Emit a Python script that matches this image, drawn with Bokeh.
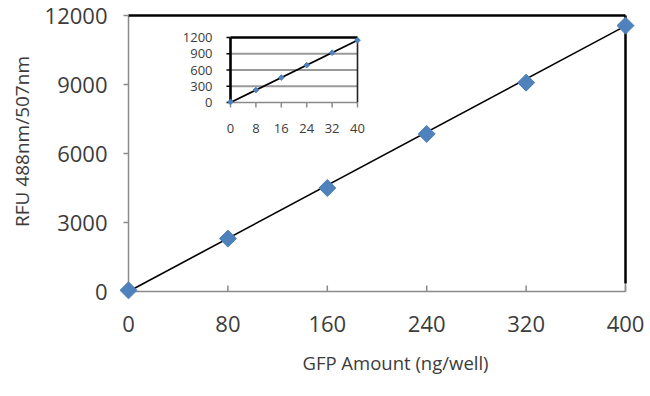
import math
from bokeh.plotting import figure
from bokeh.models import Range1d
from bokeh.core.properties import value
from bokeh.embed import file_html
from bokeh.resources import INLINE

# ---------------- data ----------------
gfp_ng = [0, 80, 160, 240, 320, 400]
rfu = [50, 2300, 4500, 6850, 9080, 11560]
trend_x = [0, 400]
trend_y = [0, 11550]
x_ticks = [0, 80, 160, 240, 320, 400]
y_ticks = [0, 3000, 6000, 9000, 12000]

inset_ng = [0, 8, 16, 24, 32, 40]
inset_rfu = [10, 230, 460, 690, 920, 1150]
inset_trend_x = [0, 40]
inset_trend_y = [0, 1150]
inset_x_ticks = [0, 8, 16, 24, 32, 40]
inset_y_ticks = [0, 300, 600, 900, 1200]
inset_grid = [300, 600, 900]

x_title = "GFP Amount (ng/well)"
y_title = "RFU 488nm/507nm"

# ---------------- layout (canvas px) ----------------
W, H = 650, 396
FONT = "Open Sans"
TXT = "#3c3c3c"
AXIS = "#8a8a8a"
BLUE = "#4f81bd"

X0PX, X1PX = 128, 625      # pixel of x 0 / 400
Y0PX, Y1PX = 291, 15       # pixel of y 0 / 12000
ux = (x_ticks[-1] - x_ticks[0]) / (X1PX - X0PX)
uy = (y_ticks[-1] - y_ticks[0]) / (Y0PX - Y1PX)
xr = Range1d(x_ticks[0] - X0PX * ux, x_ticks[-1] + (W - X1PX) * ux)
yr = Range1d(y_ticks[0] - (H - Y0PX) * uy, y_ticks[-1] + Y1PX * uy)


def px_x(px):
    return x_ticks[0] + (px - X0PX) * ux


def px_y(py):
    return y_ticks[0] + (Y0PX - py) * uy


p = figure(width=W, height=H, x_range=xr, y_range=yr,
           output_backend="svg", toolbar_location=None,
           min_border=0, min_border_left=0, min_border_right=0,
           min_border_top=0, min_border_bottom=0)
p.axis.visible = False
p.grid.visible = False
p.outline_line_color = None
p.background_fill_color = "white"
p.border_fill_color = "white"

TF = dict(text_font=value(FONT), text_color=TXT)

# axis tick labels
p.text(x=[x_ticks[0]] * len(y_ticks), y=y_ticks, text=[str(t) for t in y_ticks],
       x_offset=-21, text_align="right", text_baseline="middle",
       text_font_size="22px", **TF)
p.text(x=x_ticks, y=[y_ticks[0]] * len(x_ticks), text=[str(t) for t in x_ticks],
       y_offset=32, text_align="center", text_baseline="middle",
       text_font_size="22px", **TF)

# axis titles
p.text(x=[px_x(395)], y=[px_y(362)], text=[x_title],
       text_align="center", text_baseline="middle", text_font_size="18.5px", **TF)
p.text(x=[px_x(21)], y=[px_y(141)], text=[y_title], angle=math.pi / 2,
       text_align="center", text_baseline="middle", text_font_size="19px", **TF)

# main axis lines, borders and ticks
right_black_from = px_y(283)
p.segment(x0=[x_ticks[0]], x1=[x_ticks[-1]], y0=[y_ticks[0]], y1=[y_ticks[0]],
          line_color=AXIS, line_width=1.5)
p.segment(x0=[x_ticks[0]], x1=[x_ticks[0]], y0=[y_ticks[0]], y1=[y_ticks[-1]],
          line_color=AXIS, line_width=1.5)
p.segment(x0=[x_ticks[-1]], x1=[x_ticks[-1]], y0=[y_ticks[0]], y1=[right_black_from],
          line_color=AXIS, line_width=1.5)
p.segment(x0=[x_ticks[0]], x1=[x_ticks[-1]], y0=[y_ticks[-1]], y1=[y_ticks[-1]],
          line_color="black", line_width=2.5)
p.segment(x0=[x_ticks[-1]], x1=[x_ticks[-1]], y0=[right_black_from], y1=[y_ticks[-1]],
          line_color="black", line_width=2.5)
p.ray(x=x_ticks[1:], y=[y_ticks[0]] * (len(x_ticks) - 1), length=6,
      length_units="screen", angle=math.pi / 2, line_color=AXIS, line_width=1.5)
p.ray(x=[x_ticks[0]] * (len(y_ticks) - 1), y=y_ticks[1:], length=5,
      length_units="screen", angle=math.pi, line_color=AXIS, line_width=1.5)

# main data
p.line(trend_x, trend_y, line_color="black", line_width=1.6)
p.scatter(gfp_ng, rfu, marker="square", angle=math.pi / 4, size=12,
          fill_color=BLUE, line_color=BLUE, line_width=1)

# ---------------- inset ----------------
IX0, IX1 = 230, 357   # inset frame px (left/right)
IY0, IY1 = 102, 37    # inset frame px (bottom/top)
mx0, mx1 = px_x(IX0), px_x(IX1)
my0, my1 = px_y(IY0), px_y(IY1)
ixs = (inset_x_ticks[-1] - inset_x_ticks[0]) / (mx1 - mx0)
iys = (inset_y_ticks[-1] - inset_y_ticks[0]) / (my1 - my0)
p.extra_x_ranges = {"ix": Range1d(inset_x_ticks[0] - (mx0 - xr.start) * ixs,
                                  inset_x_ticks[-1] + (xr.end - mx1) * ixs)}
p.extra_y_ranges = {"iy": Range1d(inset_y_ticks[0] - (my0 - yr.start) * iys,
                                  inset_y_ticks[-1] + (yr.end - my1) * iys)}
R = dict(x_range_name="ix", y_range_name="iy")

ix_first, ix_last = inset_x_ticks[0], inset_x_ticks[-1]
iy_first, iy_last = inset_y_ticks[0], inset_y_ticks[-1]

p.segment(x0=[ix_first] * len(inset_grid), x1=[ix_last] * len(inset_grid),
          y0=inset_grid, y1=inset_grid, line_color="#9a9a9a", line_width=1.8, **R)
p.segment(x0=[ix_first], x1=[ix_last], y0=[iy_first], y1=[iy_first],
          line_color="#8a8a8a", line_width=1.5, **R)
p.segment(x0=[ix_first], x1=[ix_last], y0=[iy_last], y1=[iy_last],
          line_color="black", line_width=2.6, **R)
p.segment(x0=[ix_first], x1=[ix_first], y0=[iy_first], y1=[iy_last],
          line_color="black", line_width=2.6, **R)
p.segment(x0=[ix_last], x1=[ix_last], y0=[iy_first], y1=[iy_last],
          line_color="#222222", line_width=1.6, **R)
p.ray(x=inset_x_ticks, y=[iy_first] * len(inset_x_ticks), length=5,
      length_units="screen", angle=-math.pi / 2, line_color="#8a8a8a",
      line_width=1.5, **R)
p.ray(x=[ix_first] * len(inset_y_ticks), y=inset_y_ticks, length=4,
      length_units="screen", angle=math.pi, line_color="black",
      line_width=1.5, **R)

p.line(inset_trend_x, inset_trend_y, line_color="black", line_width=1.8, **R)
p.scatter(inset_ng, inset_rfu, marker="square", angle=math.pi / 4, size=4,
          fill_color=BLUE, line_color=BLUE, **R)

p.text(x=[ix_first] * len(inset_y_ticks), y=inset_y_ticks,
       text=[str(t) for t in inset_y_ticks], x_offset=-18,
       text_align="right", text_baseline="middle", text_font_size="13px",
       **TF, **R)
p.text(x=inset_x_ticks, y=[iy_first] * len(inset_x_ticks),
       text=[str(t) for t in inset_x_ticks], y_offset=26,
       text_align="center", text_baseline="middle", text_font_size="13px",
       **TF, **R)

open("out.html", "w").write(file_html(p, INLINE))
